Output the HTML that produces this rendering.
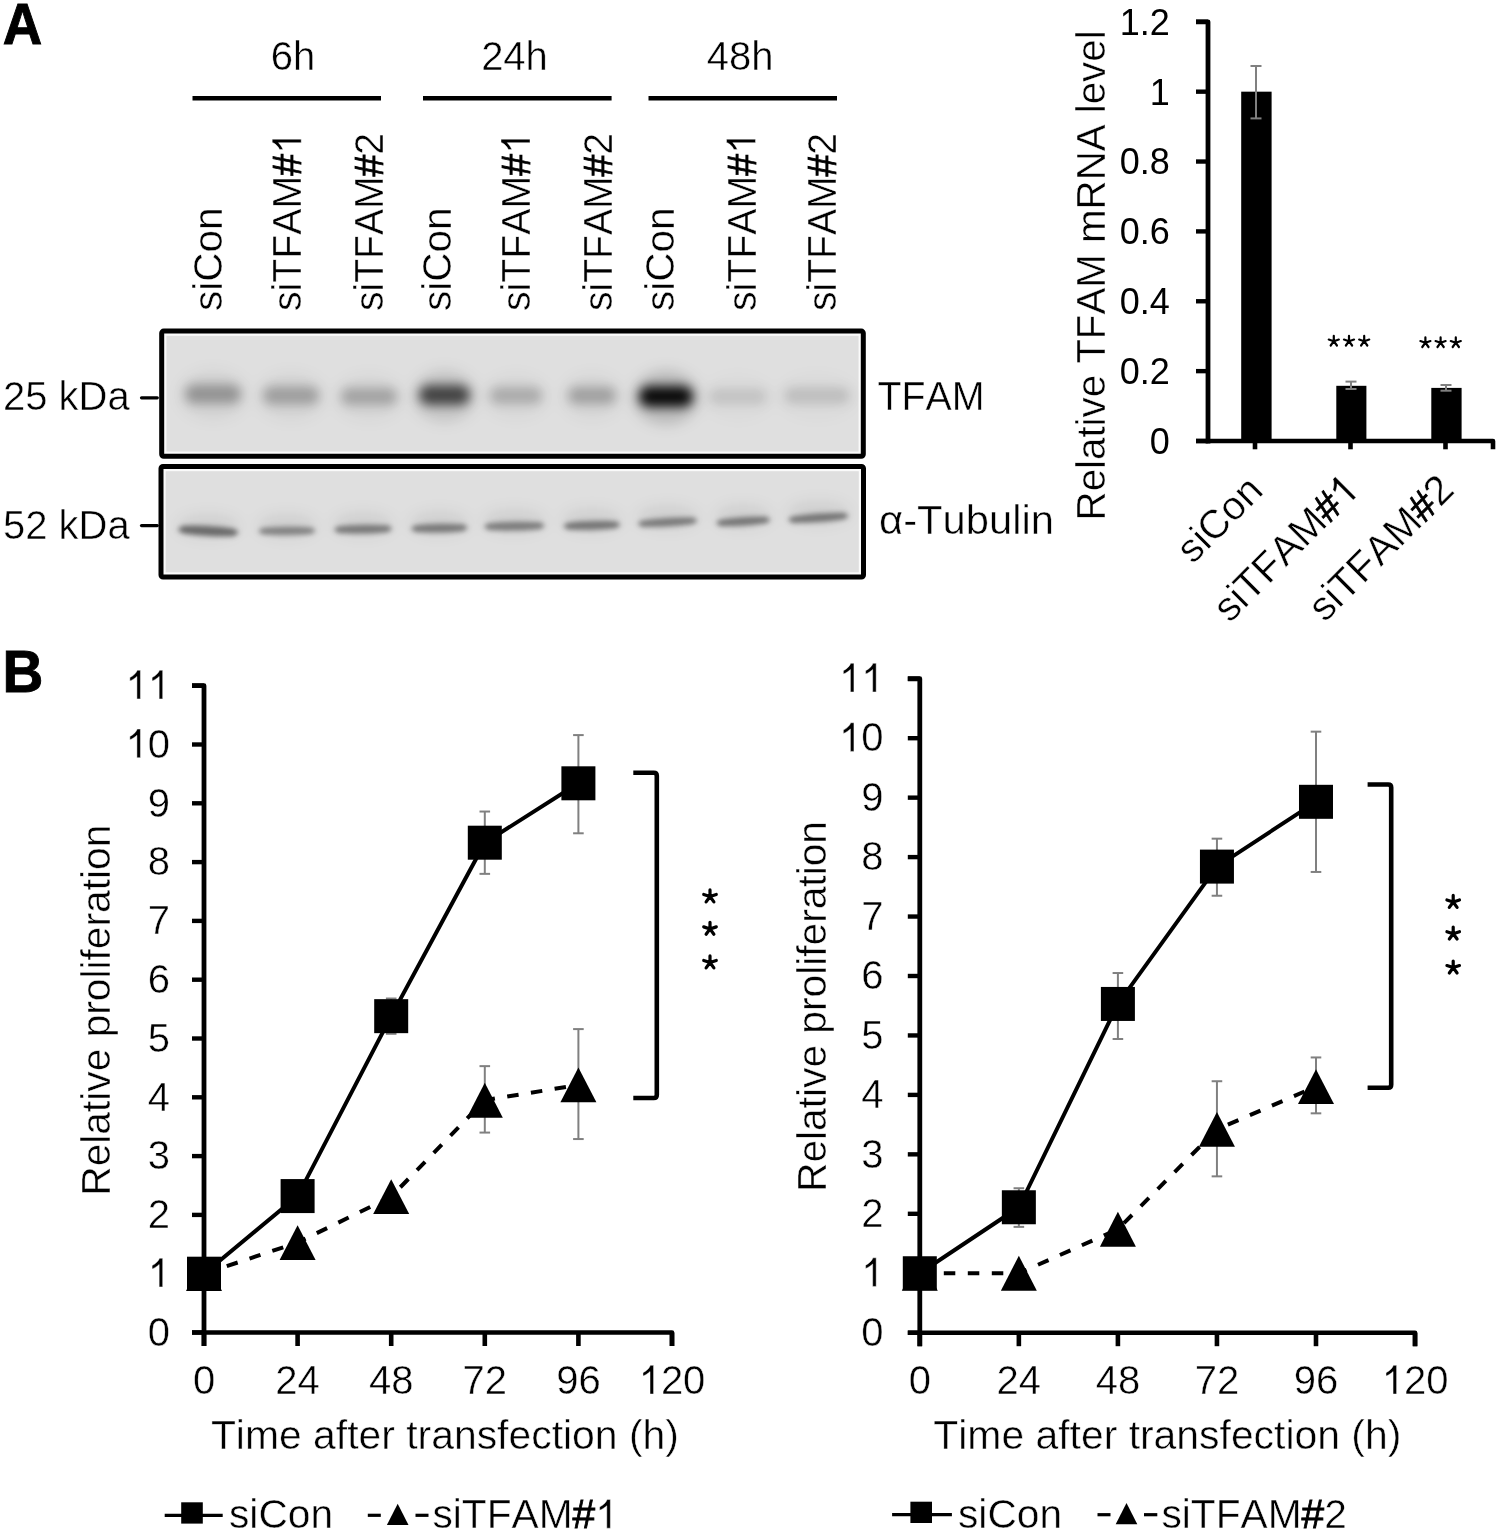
<!DOCTYPE html>
<html><head><meta charset="utf-8"><title>Figure</title>
<style>
html,body{margin:0;padding:0;background:#fff;width:1500px;height:1533px;overflow:hidden;}
svg{display:block;filter:blur(0.4px);}
text{font-family:"Liberation Sans", sans-serif;fill:#000;stroke:#fff;stroke-width:0.45px;font-kerning:none;}
</style></head><body>
<svg width="1500" height="1533" viewBox="0 0 1500 1533">
<rect width="1500" height="1533" fill="#fff"/>
<text transform="translate(2.7,44.2) scale(0.975,1.03)" font-size="56" font-weight="bold" style="stroke:#000;stroke-width:0.9px">A</text>
<text x="292.90" y="70.00" font-size="40" text-anchor="middle" font-weight="normal" >6h</text>
<line x1="192.50" y1="98.20" x2="381.00" y2="98.20" stroke="#000" stroke-width="4.6" stroke-linecap="butt" />
<text x="514.50" y="70.00" font-size="40" text-anchor="middle" font-weight="normal" >24h</text>
<line x1="423.00" y1="98.20" x2="611.60" y2="98.20" stroke="#000" stroke-width="4.6" stroke-linecap="butt" />
<text x="740.20" y="70.00" font-size="40" text-anchor="middle" font-weight="normal" >48h</text>
<line x1="648.50" y1="98.20" x2="837.00" y2="98.20" stroke="#000" stroke-width="4.6" stroke-linecap="butt" />
<text transform="translate(222.00,311.00) rotate(-90)" font-size="40.5" text-anchor="start" >siCon</text>
<text transform="translate(301.20,311.00) rotate(-90)" font-size="40.5" text-anchor="start" textLength="179" lengthAdjust="spacingAndGlyphs">siTFAM<tspan style="stroke:#000;stroke-width:0.8px">#</tspan><tspan class="one" style="fill:none;stroke:none">1</tspan></text>
<text transform="translate(383.40,311.00) rotate(-90)" font-size="40.5" text-anchor="start" textLength="178" lengthAdjust="spacingAndGlyphs">siTFAM<tspan style="stroke:#000;stroke-width:0.8px">#</tspan>2</text>
<text transform="translate(450.80,311.00) rotate(-90)" font-size="40.5" text-anchor="start" >siCon</text>
<text transform="translate(530.00,311.00) rotate(-90)" font-size="40.5" text-anchor="start" textLength="179" lengthAdjust="spacingAndGlyphs">siTFAM<tspan style="stroke:#000;stroke-width:0.8px">#</tspan><tspan class="one" style="fill:none;stroke:none">1</tspan></text>
<text transform="translate(612.20,311.00) rotate(-90)" font-size="40.5" text-anchor="start" textLength="178" lengthAdjust="spacingAndGlyphs">siTFAM<tspan style="stroke:#000;stroke-width:0.8px">#</tspan>2</text>
<text transform="translate(674.20,311.00) rotate(-90)" font-size="40.5" text-anchor="start" >siCon</text>
<text transform="translate(755.50,311.00) rotate(-90)" font-size="40.5" text-anchor="start" textLength="179" lengthAdjust="spacingAndGlyphs">siTFAM<tspan style="stroke:#000;stroke-width:0.8px">#</tspan><tspan class="one" style="fill:none;stroke:none">1</tspan></text>
<text transform="translate(836.30,311.00) rotate(-90)" font-size="40.5" text-anchor="start" textLength="178" lengthAdjust="spacingAndGlyphs">siTFAM<tspan style="stroke:#000;stroke-width:0.8px">#</tspan>2</text>
<defs><filter id="bl" filterUnits="userSpaceOnUse" x="0" y="0" width="1500" height="1533"><feGaussianBlur stdDeviation="5.5"/></filter><filter id="bl2" filterUnits="userSpaceOnUse" x="0" y="0" width="1500" height="1533"><feGaussianBlur stdDeviation="2.8"/></filter><filter id="bl3" filterUnits="userSpaceOnUse" x="0" y="0" width="1500" height="1533"><feGaussianBlur stdDeviation="7"/></filter><linearGradient id="bg1" x1="0" y1="0" x2="0" y2="1"><stop offset="0" stop-color="#dedede"/><stop offset="1" stop-color="#dcdcdc"/></linearGradient></defs>
<rect x="161.70" y="331.10" width="701.60" height="125.20" fill="#fafafa" stroke="#000" stroke-width="5.0" rx="2"/>
<rect x="166.40" y="335.80" width="692.20" height="115.80" fill="#dfdfdf"/>
<rect x="161.00" y="466.50" width="702.50" height="110.50" fill="#fafafa" stroke="#000" stroke-width="5.0" rx="2"/>
<rect x="165.70" y="471.20" width="693.10" height="101.10" fill="#dfdfdf"/>
<g filter="url(#bl)">
<line x1="194.5" y1="394.0" x2="231.5" y2="394.0" stroke="#000" stroke-width="19" stroke-linecap="round" opacity="0.3"/>
<line x1="272.0" y1="395.5" x2="310.0" y2="395.5" stroke="#000" stroke-width="18" stroke-linecap="round" opacity="0.26"/>
<line x1="349.5" y1="396.5" x2="388.5" y2="396.5" stroke="#000" stroke-width="17" stroke-linecap="round" opacity="0.24"/>
<line x1="429.0" y1="395.0" x2="460.0" y2="395.0" stroke="#000" stroke-width="20" stroke-linecap="round" opacity="0.66"/>
<line x1="498.0" y1="395.5" x2="534.0" y2="395.5" stroke="#000" stroke-width="16" stroke-linecap="round" opacity="0.21"/>
<line x1="576.5" y1="395.5" x2="607.5" y2="395.5" stroke="#000" stroke-width="17" stroke-linecap="round" opacity="0.25"/>
<line x1="649.5" y1="396.5" x2="682.5" y2="396.5" stroke="#000" stroke-width="21" stroke-linecap="round" opacity="0.94"/>
<line x1="717.0" y1="396.5" x2="759.0" y2="396.5" stroke="#000" stroke-width="16" stroke-linecap="round" opacity="0.11"/>
<line x1="792.0" y1="395.5" x2="842.0" y2="395.5" stroke="#000" stroke-width="16" stroke-linecap="round" opacity="0.13"/>
</g>
<g filter="url(#bl3)">
<ellipse cx="213.0" cy="395.0" rx="34.0" ry="25" fill="#000" opacity="0.054"/>
<ellipse cx="291.0" cy="396.5" rx="34.0" ry="24" fill="#000" opacity="0.047"/>
<ellipse cx="369.0" cy="397.5" rx="34.0" ry="23" fill="#000" opacity="0.043"/>
<ellipse cx="444.5" cy="396.0" rx="31.5" ry="26" fill="#000" opacity="0.119"/>
<ellipse cx="516.0" cy="396.5" rx="32.0" ry="22" fill="#000" opacity="0.038"/>
<ellipse cx="592.0" cy="396.5" rx="30.0" ry="23" fill="#000" opacity="0.045"/>
<ellipse cx="666.0" cy="397.5" rx="33.0" ry="27" fill="#000" opacity="0.169"/>
<ellipse cx="738.0" cy="397.5" rx="35.0" ry="22" fill="#000" opacity="0.020"/>
<ellipse cx="817.0" cy="396.5" rx="39.0" ry="22" fill="#000" opacity="0.023"/>
</g>
<g filter="url(#bl2)">
<ellipse cx="208.25" cy="531.00" rx="31.25" ry="5.50" transform="rotate(2.75 208.25 531.00)" fill="#000" opacity="0.275"/>
<line x1="184.00" y1="529.50" x2="232.50" y2="532.50" stroke="#000" stroke-width="8.50" stroke-linecap="round" opacity="0.300"/>
<ellipse cx="287.00" cy="530.95" rx="29.50" ry="4.75" transform="rotate(-0.49 287.00 530.95)" fill="#000" opacity="0.204"/>
<line x1="263.75" y1="531.20" x2="310.25" y2="530.70" stroke="#000" stroke-width="7.22" stroke-linecap="round" opacity="0.222"/>
<ellipse cx="363.00" cy="529.20" rx="30.00" ry="5.00" transform="rotate(-0.95 363.00 529.20)" fill="#000" opacity="0.231"/>
<line x1="339.50" y1="529.70" x2="386.50" y2="528.70" stroke="#000" stroke-width="7.65" stroke-linecap="round" opacity="0.252"/>
<ellipse cx="439.30" cy="528.20" rx="29.30" ry="5.00" transform="rotate(-0.98 439.30 528.20)" fill="#000" opacity="0.231"/>
<line x1="416.50" y1="528.70" x2="462.10" y2="527.70" stroke="#000" stroke-width="7.65" stroke-linecap="round" opacity="0.252"/>
<ellipse cx="514.30" cy="526.20" rx="31.30" ry="5.00" transform="rotate(-0.92 514.30 526.20)" fill="#000" opacity="0.220"/>
<line x1="489.50" y1="526.70" x2="539.10" y2="525.70" stroke="#000" stroke-width="7.65" stroke-linecap="round" opacity="0.240"/>
<ellipse cx="591.80" cy="525.45" rx="29.40" ry="5.00" transform="rotate(-1.46 591.80 525.45)" fill="#000" opacity="0.242"/>
<line x1="568.90" y1="526.20" x2="614.70" y2="524.70" stroke="#000" stroke-width="7.65" stroke-linecap="round" opacity="0.264"/>
<ellipse cx="667.60" cy="522.20" rx="30.80" ry="4.75" transform="rotate(-2.97 667.60 522.20)" fill="#000" opacity="0.226"/>
<line x1="643.05" y1="523.80" x2="692.15" y2="520.60" stroke="#000" stroke-width="7.22" stroke-linecap="round" opacity="0.246"/>
<ellipse cx="743.20" cy="521.40" rx="28.00" ry="4.75" transform="rotate(-3.27 743.20 521.40)" fill="#000" opacity="0.242"/>
<line x1="721.45" y1="523.00" x2="764.95" y2="519.80" stroke="#000" stroke-width="7.22" stroke-linecap="round" opacity="0.264"/>
<ellipse cx="818.40" cy="517.80" rx="31.20" ry="4.75" transform="rotate(-3.67 818.40 517.80)" fill="#000" opacity="0.242"/>
<line x1="793.45" y1="519.80" x2="843.35" y2="515.80" stroke="#000" stroke-width="7.22" stroke-linecap="round" opacity="0.264"/>
</g>
<g filter="url(#bl3)">
<ellipse cx="208.25" cy="526.0" rx="31.25" ry="12" fill="#000" opacity="0.07"/>
<ellipse cx="287.0" cy="525.95" rx="29.5" ry="12" fill="#000" opacity="0.07"/>
<ellipse cx="363.0" cy="524.2" rx="30.0" ry="12" fill="#000" opacity="0.07"/>
<ellipse cx="439.3" cy="523.2" rx="29.30000000000001" ry="12" fill="#000" opacity="0.07"/>
<ellipse cx="514.3" cy="521.2" rx="31.30000000000001" ry="12" fill="#000" opacity="0.07"/>
<ellipse cx="591.8" cy="520.45" rx="29.400000000000034" ry="12" fill="#000" opacity="0.07"/>
<ellipse cx="667.5999999999999" cy="517.2" rx="30.80000000000001" ry="12" fill="#000" opacity="0.07"/>
<ellipse cx="743.2" cy="516.4" rx="28.0" ry="12" fill="#000" opacity="0.07"/>
<ellipse cx="818.4000000000001" cy="512.8" rx="31.19999999999999" ry="12" fill="#000" opacity="0.07"/>
</g>
<text x="3.00" y="409.70" font-size="40" text-anchor="start" font-weight="normal" >25 kDa</text>
<text x="3.00" y="539.00" font-size="40" text-anchor="start" font-weight="normal" >52 kDa</text>
<line x1="141.50" y1="397.80" x2="157.30" y2="397.80" stroke="#000" stroke-width="3.2" stroke-linecap="round" />
<line x1="141.50" y1="525.60" x2="157.30" y2="525.60" stroke="#000" stroke-width="3.2" stroke-linecap="round" />
<text x="877.50" y="410.00" font-size="40" text-anchor="start" font-weight="normal" textLength="107.1" lengthAdjust="spacingAndGlyphs">TFAM</text>
<text x="879.00" y="534.00" font-size="40" text-anchor="start" font-weight="normal" textLength="175" lengthAdjust="spacingAndGlyphs">&#945;-Tubulin</text>
<rect x="1241.2" y="91.67" width="30.40" height="349.33" fill="#000"/>
<rect x="1336.3" y="385.81" width="30.10" height="55.19" fill="#000"/>
<rect x="1431.3" y="387.90" width="30.30" height="53.10" fill="#000"/>
<line x1="1256.00" y1="66.00" x2="1256.00" y2="118.40" stroke="#808080" stroke-width="2.0" stroke-linecap="butt" />
<line x1="1250.50" y1="66.00" x2="1261.50" y2="66.00" stroke="#808080" stroke-width="2.0" stroke-linecap="butt" />
<line x1="1250.50" y1="118.40" x2="1261.50" y2="118.40" stroke="#808080" stroke-width="2.0" stroke-linecap="butt" />
<line x1="1351.00" y1="381.60" x2="1351.00" y2="389.00" stroke="#808080" stroke-width="2.0" stroke-linecap="butt" />
<line x1="1345.50" y1="381.60" x2="1356.50" y2="381.60" stroke="#808080" stroke-width="2.0" stroke-linecap="butt" />
<line x1="1345.50" y1="389.00" x2="1356.50" y2="389.00" stroke="#808080" stroke-width="2.0" stroke-linecap="butt" />
<line x1="1446.00" y1="385.00" x2="1446.00" y2="390.70" stroke="#808080" stroke-width="2.0" stroke-linecap="butt" />
<line x1="1440.50" y1="385.00" x2="1451.50" y2="385.00" stroke="#808080" stroke-width="2.0" stroke-linecap="butt" />
<line x1="1440.50" y1="390.70" x2="1451.50" y2="390.70" stroke="#808080" stroke-width="2.0" stroke-linecap="butt" />
<path d="M1196,21.80 H1208.0 V443.4" fill="none" stroke="#000" stroke-width="4.8" stroke-linejoin="round"/>
<path d="M1196,441.0 H1493 V449.3" fill="none" stroke="#000" stroke-width="4.6" stroke-linejoin="round"/>
<line x1="1196.00" y1="441.00" x2="1208.00" y2="441.00" stroke="#000" stroke-width="4.4" stroke-linecap="butt" />
<text x="1169.80" y="453.90" font-size="36" text-anchor="end" font-weight="normal" style="stroke:none">0</text>
<line x1="1196.00" y1="371.13" x2="1208.00" y2="371.13" stroke="#000" stroke-width="4.4" stroke-linecap="butt" />
<text x="1169.80" y="384.03" font-size="36" text-anchor="end" font-weight="normal" style="stroke:none">0.2</text>
<line x1="1196.00" y1="301.27" x2="1208.00" y2="301.27" stroke="#000" stroke-width="4.4" stroke-linecap="butt" />
<text x="1169.80" y="314.17" font-size="36" text-anchor="end" font-weight="normal" style="stroke:none">0.4</text>
<line x1="1196.00" y1="231.40" x2="1208.00" y2="231.40" stroke="#000" stroke-width="4.4" stroke-linecap="butt" />
<text x="1169.80" y="244.30" font-size="36" text-anchor="end" font-weight="normal" style="stroke:none">0.6</text>
<line x1="1196.00" y1="161.53" x2="1208.00" y2="161.53" stroke="#000" stroke-width="4.4" stroke-linecap="butt" />
<text x="1169.80" y="174.43" font-size="36" text-anchor="end" font-weight="normal" style="stroke:none">0.8</text>
<line x1="1196.00" y1="91.67" x2="1208.00" y2="91.67" stroke="#000" stroke-width="4.4" stroke-linecap="butt" />
<text x="1169.80" y="104.57" font-size="36" text-anchor="end" font-weight="normal" style="stroke:none">1</text>
<line x1="1196.00" y1="21.80" x2="1208.00" y2="21.80" stroke="#000" stroke-width="4.4" stroke-linecap="butt" />
<text x="1169.80" y="34.70" font-size="36" text-anchor="end" font-weight="normal" style="stroke:none">1.2</text>
<line x1="1255.00" y1="441.00" x2="1255.00" y2="449.30" stroke="#000" stroke-width="4.6" stroke-linecap="butt" />
<line x1="1350.50" y1="441.00" x2="1350.50" y2="449.30" stroke="#000" stroke-width="4.6" stroke-linecap="butt" />
<line x1="1445.50" y1="441.00" x2="1445.50" y2="449.30" stroke="#000" stroke-width="4.6" stroke-linecap="butt" />
<path d="M1333.80,341.20L1333.80,335.90M1333.80,341.20L1338.84,339.56M1333.80,341.20L1336.92,345.49M1333.80,341.20L1330.68,345.49M1333.80,341.20L1328.76,339.56" stroke="#000" stroke-width="2.2" stroke-linecap="round" fill="none"/>
<path d="M1349.00,341.20L1349.00,335.90M1349.00,341.20L1354.04,339.56M1349.00,341.20L1352.12,345.49M1349.00,341.20L1345.88,345.49M1349.00,341.20L1343.96,339.56" stroke="#000" stroke-width="2.2" stroke-linecap="round" fill="none"/>
<path d="M1364.20,341.20L1364.20,335.90M1364.20,341.20L1369.24,339.56M1364.20,341.20L1367.32,345.49M1364.20,341.20L1361.08,345.49M1364.20,341.20L1359.16,339.56" stroke="#000" stroke-width="2.2" stroke-linecap="round" fill="none"/>
<path d="M1425.40,342.70L1425.40,337.40M1425.40,342.70L1430.44,341.06M1425.40,342.70L1428.52,346.99M1425.40,342.70L1422.28,346.99M1425.40,342.70L1420.36,341.06" stroke="#000" stroke-width="2.2" stroke-linecap="round" fill="none"/>
<path d="M1440.60,342.70L1440.60,337.40M1440.60,342.70L1445.64,341.06M1440.60,342.70L1443.72,346.99M1440.60,342.70L1437.48,346.99M1440.60,342.70L1435.56,341.06" stroke="#000" stroke-width="2.2" stroke-linecap="round" fill="none"/>
<path d="M1455.80,342.70L1455.80,337.40M1455.80,342.70L1460.84,341.06M1455.80,342.70L1458.92,346.99M1455.80,342.70L1452.68,346.99M1455.80,342.70L1450.76,341.06" stroke="#000" stroke-width="2.2" stroke-linecap="round" fill="none"/>
<text transform="translate(1105.20,520.40) rotate(-90)" font-size="40" text-anchor="start" textLength="490" lengthAdjust="spacingAndGlyphs">Relative TFAM mRNA level</text>
<text transform="translate(1244.7,472.2) rotate(-45)" font-size="40" text-anchor="end" dy="0.72em" dx="0">siCon</text>
<text transform="translate(1340.4,471.4) rotate(-45)" font-size="40.8" text-anchor="end" dy="0.72em" dx="0">siTFAM<tspan style="stroke:#000;stroke-width:0.8px">#</tspan><tspan class="one" style="fill:none;stroke:none">1</tspan></text>
<text transform="translate(1435.3,471.0) rotate(-45)" font-size="40.8" text-anchor="end" dy="0.72em" dx="0">siTFAM<tspan style="stroke:#000;stroke-width:0.8px">#</tspan>2</text>
<text transform="translate(2.4,691.6) scale(1.01,1.068)" font-size="56" font-weight="bold" style="stroke:#000;stroke-width:0.9px">B</text>
<line x1="391.20" y1="998.52" x2="391.20" y2="1033.80" stroke="#808080" stroke-width="2.0" stroke-linecap="butt" />
<line x1="385.90" y1="998.52" x2="396.50" y2="998.52" stroke="#808080" stroke-width="2.0" stroke-linecap="butt" />
<line x1="385.90" y1="1033.80" x2="396.50" y2="1033.80" stroke="#808080" stroke-width="2.0" stroke-linecap="butt" />
<line x1="484.80" y1="811.53" x2="484.80" y2="873.86" stroke="#808080" stroke-width="2.0" stroke-linecap="butt" />
<line x1="479.50" y1="811.53" x2="490.10" y2="811.53" stroke="#808080" stroke-width="2.0" stroke-linecap="butt" />
<line x1="479.50" y1="873.86" x2="490.10" y2="873.86" stroke="#808080" stroke-width="2.0" stroke-linecap="butt" />
<line x1="578.40" y1="735.09" x2="578.40" y2="833.29" stroke="#808080" stroke-width="2.0" stroke-linecap="butt" />
<line x1="573.10" y1="735.09" x2="583.70" y2="735.09" stroke="#808080" stroke-width="2.0" stroke-linecap="butt" />
<line x1="573.10" y1="833.29" x2="583.70" y2="833.29" stroke="#808080" stroke-width="2.0" stroke-linecap="butt" />
<line x1="484.80" y1="1066.14" x2="484.80" y2="1132.58" stroke="#808080" stroke-width="2.0" stroke-linecap="butt" />
<line x1="479.50" y1="1066.14" x2="490.10" y2="1066.14" stroke="#808080" stroke-width="2.0" stroke-linecap="butt" />
<line x1="479.50" y1="1132.58" x2="490.10" y2="1132.58" stroke="#808080" stroke-width="2.0" stroke-linecap="butt" />
<line x1="578.40" y1="1029.09" x2="578.40" y2="1139.05" stroke="#808080" stroke-width="2.0" stroke-linecap="butt" />
<line x1="573.10" y1="1029.09" x2="583.70" y2="1029.09" stroke="#808080" stroke-width="2.0" stroke-linecap="butt" />
<line x1="573.10" y1="1139.05" x2="583.70" y2="1139.05" stroke="#808080" stroke-width="2.0" stroke-linecap="butt" />
<path d="M192.00,685.70 H204.00 V1346.00" fill="none" stroke="#000" stroke-width="4.8" stroke-linejoin="round"/>
<line x1="192.00" y1="1332.50" x2="204.00" y2="1332.50" stroke="#000" stroke-width="4.4" stroke-linecap="butt" />
<text x="170.00" y="1345.70" font-size="40" text-anchor="end" font-weight="normal" >0</text>
<line x1="192.00" y1="1273.70" x2="204.00" y2="1273.70" stroke="#000" stroke-width="4.4" stroke-linecap="butt" />
<text x="170.00" y="1286.90" font-size="40" text-anchor="end" font-weight="normal" ><tspan class="one" style="fill:none;stroke:none">1</tspan></text>
<line x1="192.00" y1="1214.90" x2="204.00" y2="1214.90" stroke="#000" stroke-width="4.4" stroke-linecap="butt" />
<text x="170.00" y="1228.10" font-size="40" text-anchor="end" font-weight="normal" >2</text>
<line x1="192.00" y1="1156.10" x2="204.00" y2="1156.10" stroke="#000" stroke-width="4.4" stroke-linecap="butt" />
<text x="170.00" y="1169.30" font-size="40" text-anchor="end" font-weight="normal" >3</text>
<line x1="192.00" y1="1097.30" x2="204.00" y2="1097.30" stroke="#000" stroke-width="4.4" stroke-linecap="butt" />
<text x="170.00" y="1110.50" font-size="40" text-anchor="end" font-weight="normal" >4</text>
<line x1="192.00" y1="1038.50" x2="204.00" y2="1038.50" stroke="#000" stroke-width="4.4" stroke-linecap="butt" />
<text x="170.00" y="1051.70" font-size="40" text-anchor="end" font-weight="normal" >5</text>
<line x1="192.00" y1="979.70" x2="204.00" y2="979.70" stroke="#000" stroke-width="4.4" stroke-linecap="butt" />
<text x="170.00" y="992.90" font-size="40" text-anchor="end" font-weight="normal" >6</text>
<line x1="192.00" y1="920.90" x2="204.00" y2="920.90" stroke="#000" stroke-width="4.4" stroke-linecap="butt" />
<text x="170.00" y="934.10" font-size="40" text-anchor="end" font-weight="normal" >7</text>
<line x1="192.00" y1="862.10" x2="204.00" y2="862.10" stroke="#000" stroke-width="4.4" stroke-linecap="butt" />
<text x="170.00" y="875.30" font-size="40" text-anchor="end" font-weight="normal" >8</text>
<line x1="192.00" y1="803.30" x2="204.00" y2="803.30" stroke="#000" stroke-width="4.4" stroke-linecap="butt" />
<text x="170.00" y="816.50" font-size="40" text-anchor="end" font-weight="normal" >9</text>
<line x1="192.00" y1="744.50" x2="204.00" y2="744.50" stroke="#000" stroke-width="4.4" stroke-linecap="butt" />
<text x="170.00" y="757.70" font-size="40" text-anchor="end" font-weight="normal" ><tspan class="one" style="fill:none;stroke:none">1</tspan>0</text>
<line x1="192.00" y1="685.70" x2="204.00" y2="685.70" stroke="#000" stroke-width="4.4" stroke-linecap="butt" />
<text x="170.00" y="698.90" font-size="40" text-anchor="end" font-weight="normal" ><tspan class="one" style="fill:none;stroke:none">1</tspan><tspan class="one" style="fill:none;stroke:none">1</tspan></text>
<path d="M192.00,1332.50 H672.00 V1346.00" fill="none" stroke="#000" stroke-width="4.6" stroke-linejoin="round"/>
<line x1="204.00" y1="1332.50" x2="204.00" y2="1346.00" stroke="#000" stroke-width="4.6" stroke-linecap="butt" />
<text x="204.00" y="1394.00" font-size="40" text-anchor="middle" font-weight="normal" >0</text>
<line x1="297.60" y1="1332.50" x2="297.60" y2="1346.00" stroke="#000" stroke-width="4.6" stroke-linecap="butt" />
<text x="297.60" y="1394.00" font-size="40" text-anchor="middle" font-weight="normal" >24</text>
<line x1="391.20" y1="1332.50" x2="391.20" y2="1346.00" stroke="#000" stroke-width="4.6" stroke-linecap="butt" />
<text x="391.20" y="1394.00" font-size="40" text-anchor="middle" font-weight="normal" >48</text>
<line x1="484.80" y1="1332.50" x2="484.80" y2="1346.00" stroke="#000" stroke-width="4.6" stroke-linecap="butt" />
<text x="484.80" y="1394.00" font-size="40" text-anchor="middle" font-weight="normal" >72</text>
<line x1="578.40" y1="1332.50" x2="578.40" y2="1346.00" stroke="#000" stroke-width="4.6" stroke-linecap="butt" />
<text x="578.40" y="1394.00" font-size="40" text-anchor="middle" font-weight="normal" >96</text>
<line x1="672.00" y1="1332.50" x2="672.00" y2="1346.00" stroke="#000" stroke-width="4.6" stroke-linecap="butt" />
<text x="672.00" y="1394.00" font-size="40" text-anchor="middle" font-weight="normal" ><tspan class="one" style="fill:none;stroke:none">1</tspan>20</text>
<polyline points="204.00,1273.70 297.60,1242.54 391.20,1196.67 484.80,1100.24 578.40,1084.95" fill="none" stroke="#000" stroke-width="4" stroke-dasharray="11.5,12.5"/>
<polyline points="204.00,1273.70 297.60,1196.08 391.20,1016.16 484.80,842.70 578.40,783.31" fill="none" stroke="#000" stroke-width="4"/>
<path d="M204.00,1256.30L222.00,1291.10L186.00,1291.10Z" fill="#000"/>
<path d="M297.60,1225.14L315.60,1259.94L279.60,1259.94Z" fill="#000"/>
<path d="M391.20,1179.27L409.20,1214.07L373.20,1214.07Z" fill="#000"/>
<path d="M484.80,1082.84L502.80,1117.64L466.80,1117.64Z" fill="#000"/>
<path d="M578.40,1067.55L596.40,1102.35L560.40,1102.35Z" fill="#000"/>
<rect x="187.00" y="1256.70" width="34" height="34" fill="#000"/>
<rect x="280.60" y="1179.08" width="34" height="34" fill="#000"/>
<rect x="374.20" y="999.16" width="34" height="34" fill="#000"/>
<rect x="467.80" y="825.70" width="34" height="34" fill="#000"/>
<rect x="561.40" y="766.31" width="34" height="34" fill="#000"/>
<text x="210.90" y="1448.60" font-size="40" text-anchor="start" font-weight="normal" textLength="468.0" lengthAdjust="spacingAndGlyphs">Time after transfection (h)</text>
<text transform="translate(110.30,1195.70) rotate(-90)" font-size="40" text-anchor="start" textLength="371.0" lengthAdjust="spacingAndGlyphs">Relative proliferation</text>
<path d="M633.3,772.8 H653.8 Q656.8,772.8 656.8,775.8 V1095.0 Q656.8,1098.0 653.8,1098.0 H633.3" fill="none" stroke="#000" stroke-width="4.6"/>
<path d="M710.00,896.50L710.00,889.90M710.00,896.50L716.28,894.46M710.00,896.50L713.88,901.84M710.00,896.50L706.12,901.84M710.00,896.50L703.72,894.46" stroke="#000" stroke-width="3.2" stroke-linecap="round" fill="none"/>
<path d="M710.00,928.90L710.00,922.30M710.00,928.90L716.28,926.86M710.00,928.90L713.88,934.24M710.00,928.90L706.12,934.24M710.00,928.90L703.72,926.86" stroke="#000" stroke-width="3.2" stroke-linecap="round" fill="none"/>
<path d="M710.00,962.50L710.00,955.90M710.00,962.50L716.28,960.46M710.00,962.50L713.88,967.84M710.00,962.50L706.12,967.84M710.00,962.50L703.72,960.46" stroke="#000" stroke-width="3.2" stroke-linecap="round" fill="none"/>
<line x1="164.70" y1="1515.30" x2="222.70" y2="1515.30" stroke="#000" stroke-width="3.2" stroke-linecap="butt" />
<rect x="181.20" y="1502.30" width="21.6" height="21.3" fill="#000"/>
<text x="229.00" y="1528.20" font-size="40" text-anchor="start" font-weight="normal" textLength="104" lengthAdjust="spacingAndGlyphs">siCon</text>
<line x1="367.80" y1="1515.30" x2="380.80" y2="1515.30" stroke="#000" stroke-width="3.2" stroke-linecap="butt" />
<path d="M397.70,1503.70L408.50,1524.90L386.90,1524.90Z" fill="#000"/>
<line x1="415.50" y1="1515.30" x2="428.50" y2="1515.30" stroke="#000" stroke-width="3.2" stroke-linecap="butt" />
<text x="432.50" y="1528.20" font-size="40" text-anchor="start" font-weight="normal" textLength="185.3" lengthAdjust="spacingAndGlyphs">siTFAM<tspan style="stroke:#000;stroke-width:0.8px">#</tspan><tspan class="one" style="fill:none;stroke:none">1</tspan></text>
<line x1="1018.85" y1="1188.24" x2="1018.85" y2="1226.88" stroke="#808080" stroke-width="2.0" stroke-linecap="butt" />
<line x1="1013.55" y1="1188.24" x2="1024.15" y2="1188.24" stroke="#808080" stroke-width="2.0" stroke-linecap="butt" />
<line x1="1013.55" y1="1226.88" x2="1024.15" y2="1226.88" stroke="#808080" stroke-width="2.0" stroke-linecap="butt" />
<line x1="1117.90" y1="973.03" x2="1117.90" y2="1039.02" stroke="#808080" stroke-width="2.0" stroke-linecap="butt" />
<line x1="1112.60" y1="973.03" x2="1123.20" y2="973.03" stroke="#808080" stroke-width="2.0" stroke-linecap="butt" />
<line x1="1112.60" y1="1039.02" x2="1123.20" y2="1039.02" stroke="#808080" stroke-width="2.0" stroke-linecap="butt" />
<line x1="1216.94" y1="838.67" x2="1216.94" y2="895.74" stroke="#808080" stroke-width="2.0" stroke-linecap="butt" />
<line x1="1211.64" y1="838.67" x2="1222.24" y2="838.67" stroke="#808080" stroke-width="2.0" stroke-linecap="butt" />
<line x1="1211.64" y1="895.74" x2="1222.24" y2="895.74" stroke="#808080" stroke-width="2.0" stroke-linecap="butt" />
<line x1="1315.99" y1="731.66" x2="1315.99" y2="871.96" stroke="#808080" stroke-width="2.0" stroke-linecap="butt" />
<line x1="1310.69" y1="731.66" x2="1321.29" y2="731.66" stroke="#808080" stroke-width="2.0" stroke-linecap="butt" />
<line x1="1310.69" y1="871.96" x2="1321.29" y2="871.96" stroke="#808080" stroke-width="2.0" stroke-linecap="butt" />
<line x1="1216.94" y1="1081.23" x2="1216.94" y2="1176.35" stroke="#808080" stroke-width="2.0" stroke-linecap="butt" />
<line x1="1211.64" y1="1081.23" x2="1222.24" y2="1081.23" stroke="#808080" stroke-width="2.0" stroke-linecap="butt" />
<line x1="1211.64" y1="1176.35" x2="1222.24" y2="1176.35" stroke="#808080" stroke-width="2.0" stroke-linecap="butt" />
<line x1="1315.99" y1="1057.45" x2="1315.99" y2="1113.33" stroke="#808080" stroke-width="2.0" stroke-linecap="butt" />
<line x1="1310.69" y1="1057.45" x2="1321.29" y2="1057.45" stroke="#808080" stroke-width="2.0" stroke-linecap="butt" />
<line x1="1310.69" y1="1113.33" x2="1321.29" y2="1113.33" stroke="#808080" stroke-width="2.0" stroke-linecap="butt" />
<path d="M907.80,678.75 H919.80 V1346.20" fill="none" stroke="#000" stroke-width="4.8" stroke-linejoin="round"/>
<line x1="907.80" y1="1332.70" x2="919.80" y2="1332.70" stroke="#000" stroke-width="4.4" stroke-linecap="butt" />
<text x="883.50" y="1345.90" font-size="40" text-anchor="end" font-weight="normal" >0</text>
<line x1="907.80" y1="1273.25" x2="919.80" y2="1273.25" stroke="#000" stroke-width="4.4" stroke-linecap="butt" />
<text x="883.50" y="1286.45" font-size="40" text-anchor="end" font-weight="normal" ><tspan class="one" style="fill:none;stroke:none">1</tspan></text>
<line x1="907.80" y1="1213.80" x2="919.80" y2="1213.80" stroke="#000" stroke-width="4.4" stroke-linecap="butt" />
<text x="883.50" y="1227.00" font-size="40" text-anchor="end" font-weight="normal" >2</text>
<line x1="907.80" y1="1154.35" x2="919.80" y2="1154.35" stroke="#000" stroke-width="4.4" stroke-linecap="butt" />
<text x="883.50" y="1167.55" font-size="40" text-anchor="end" font-weight="normal" >3</text>
<line x1="907.80" y1="1094.90" x2="919.80" y2="1094.90" stroke="#000" stroke-width="4.4" stroke-linecap="butt" />
<text x="883.50" y="1108.10" font-size="40" text-anchor="end" font-weight="normal" >4</text>
<line x1="907.80" y1="1035.45" x2="919.80" y2="1035.45" stroke="#000" stroke-width="4.4" stroke-linecap="butt" />
<text x="883.50" y="1048.65" font-size="40" text-anchor="end" font-weight="normal" >5</text>
<line x1="907.80" y1="976.00" x2="919.80" y2="976.00" stroke="#000" stroke-width="4.4" stroke-linecap="butt" />
<text x="883.50" y="989.20" font-size="40" text-anchor="end" font-weight="normal" >6</text>
<line x1="907.80" y1="916.55" x2="919.80" y2="916.55" stroke="#000" stroke-width="4.4" stroke-linecap="butt" />
<text x="883.50" y="929.75" font-size="40" text-anchor="end" font-weight="normal" >7</text>
<line x1="907.80" y1="857.10" x2="919.80" y2="857.10" stroke="#000" stroke-width="4.4" stroke-linecap="butt" />
<text x="883.50" y="870.30" font-size="40" text-anchor="end" font-weight="normal" >8</text>
<line x1="907.80" y1="797.65" x2="919.80" y2="797.65" stroke="#000" stroke-width="4.4" stroke-linecap="butt" />
<text x="883.50" y="810.85" font-size="40" text-anchor="end" font-weight="normal" >9</text>
<line x1="907.80" y1="738.20" x2="919.80" y2="738.20" stroke="#000" stroke-width="4.4" stroke-linecap="butt" />
<text x="883.50" y="751.40" font-size="40" text-anchor="end" font-weight="normal" ><tspan class="one" style="fill:none;stroke:none">1</tspan>0</text>
<line x1="907.80" y1="678.75" x2="919.80" y2="678.75" stroke="#000" stroke-width="4.4" stroke-linecap="butt" />
<text x="883.50" y="691.95" font-size="40" text-anchor="end" font-weight="normal" ><tspan class="one" style="fill:none;stroke:none">1</tspan><tspan class="one" style="fill:none;stroke:none">1</tspan></text>
<path d="M907.80,1332.70 H1415.04 V1346.20" fill="none" stroke="#000" stroke-width="4.6" stroke-linejoin="round"/>
<line x1="919.80" y1="1332.70" x2="919.80" y2="1346.20" stroke="#000" stroke-width="4.6" stroke-linecap="butt" />
<text x="919.80" y="1394.00" font-size="40" text-anchor="middle" font-weight="normal" >0</text>
<line x1="1018.85" y1="1332.70" x2="1018.85" y2="1346.20" stroke="#000" stroke-width="4.6" stroke-linecap="butt" />
<text x="1018.85" y="1394.00" font-size="40" text-anchor="middle" font-weight="normal" >24</text>
<line x1="1117.90" y1="1332.70" x2="1117.90" y2="1346.20" stroke="#000" stroke-width="4.6" stroke-linecap="butt" />
<text x="1117.90" y="1394.00" font-size="40" text-anchor="middle" font-weight="normal" >48</text>
<line x1="1216.94" y1="1332.70" x2="1216.94" y2="1346.20" stroke="#000" stroke-width="4.6" stroke-linecap="butt" />
<text x="1216.94" y="1394.00" font-size="40" text-anchor="middle" font-weight="normal" >72</text>
<line x1="1315.99" y1="1332.70" x2="1315.99" y2="1346.20" stroke="#000" stroke-width="4.6" stroke-linecap="butt" />
<text x="1315.99" y="1394.00" font-size="40" text-anchor="middle" font-weight="normal" >96</text>
<line x1="1415.04" y1="1332.70" x2="1415.04" y2="1346.20" stroke="#000" stroke-width="4.6" stroke-linecap="butt" />
<text x="1415.04" y="1394.00" font-size="40" text-anchor="middle" font-weight="normal" ><tspan class="one" style="fill:none;stroke:none">1</tspan>20</text>
<polyline points="919.80,1273.25 1018.85,1273.25 1117.90,1229.26 1216.94,1129.38 1315.99,1086.58" fill="none" stroke="#000" stroke-width="4" stroke-dasharray="11.5,12.5"/>
<polyline points="919.80,1273.25 1018.85,1207.26 1117.90,1003.94 1216.94,866.61 1315.99,801.81" fill="none" stroke="#000" stroke-width="4"/>
<path d="M919.80,1255.85L937.80,1290.65L901.80,1290.65Z" fill="#000"/>
<path d="M1018.85,1255.85L1036.85,1290.65L1000.85,1290.65Z" fill="#000"/>
<path d="M1117.90,1211.86L1135.90,1246.66L1099.90,1246.66Z" fill="#000"/>
<path d="M1216.94,1111.98L1234.94,1146.78L1198.94,1146.78Z" fill="#000"/>
<path d="M1315.99,1069.18L1333.99,1103.98L1297.99,1103.98Z" fill="#000"/>
<rect x="902.80" y="1256.25" width="34" height="34" fill="#000"/>
<rect x="1001.85" y="1190.26" width="34" height="34" fill="#000"/>
<rect x="1100.90" y="986.94" width="34" height="34" fill="#000"/>
<rect x="1199.94" y="849.61" width="34" height="34" fill="#000"/>
<rect x="1298.99" y="784.81" width="34" height="34" fill="#000"/>
<text x="933.30" y="1448.60" font-size="40" text-anchor="start" font-weight="normal" textLength="468.0" lengthAdjust="spacingAndGlyphs">Time after transfection (h)</text>
<text transform="translate(825.70,1192.00) rotate(-90)" font-size="40" text-anchor="start" textLength="371.0" lengthAdjust="spacingAndGlyphs">Relative proliferation</text>
<path d="M1367.6,784.5 H1388.2 Q1391.2,784.5 1391.2,787.5 V1084.8 Q1391.2,1087.8 1388.2,1087.8 H1367.6" fill="none" stroke="#000" stroke-width="4.6"/>
<path d="M1453.20,902.00L1453.20,895.40M1453.20,902.00L1459.48,899.96M1453.20,902.00L1457.08,907.34M1453.20,902.00L1449.32,907.34M1453.20,902.00L1446.92,899.96" stroke="#000" stroke-width="3.2" stroke-linecap="round" fill="none"/>
<path d="M1453.20,933.70L1453.20,927.10M1453.20,933.70L1459.48,931.66M1453.20,933.70L1457.08,939.04M1453.20,933.70L1449.32,939.04M1453.20,933.70L1446.92,931.66" stroke="#000" stroke-width="3.2" stroke-linecap="round" fill="none"/>
<path d="M1453.20,967.60L1453.20,961.00M1453.20,967.60L1459.48,965.56M1453.20,967.60L1457.08,972.94M1453.20,967.60L1449.32,972.94M1453.20,967.60L1446.92,965.56" stroke="#000" stroke-width="3.2" stroke-linecap="round" fill="none"/>
<line x1="892.10" y1="1514.70" x2="951.90" y2="1514.70" stroke="#000" stroke-width="3.2" stroke-linecap="butt" />
<rect x="910.40" y="1501.70" width="21.6" height="21.3" fill="#000"/>
<text x="958.00" y="1528.20" font-size="40" text-anchor="start" font-weight="normal" textLength="104" lengthAdjust="spacingAndGlyphs">siCon</text>
<line x1="1097.50" y1="1514.70" x2="1110.50" y2="1514.70" stroke="#000" stroke-width="3.2" stroke-linecap="butt" />
<path d="M1126.50,1503.10L1137.30,1524.30L1115.70,1524.30Z" fill="#000"/>
<line x1="1144.00" y1="1514.70" x2="1157.30" y2="1514.70" stroke="#000" stroke-width="3.2" stroke-linecap="butt" />
<text x="1161.50" y="1528.20" font-size="40" text-anchor="start" font-weight="normal" textLength="185.3" lengthAdjust="spacingAndGlyphs">siTFAM<tspan style="stroke:#000;stroke-width:0.8px">#</tspan>2</text>
<path transform="translate(301.20,311.00) rotate(-90)" d="M171.81,0.00L168.35,0.00L168.35,-22.68Q167.09,-21.46 165.32,-20.25Q163.43,-18.95 161.43,-18.14L161.43,-21.59Q164.34,-22.96 166.66,-25.60Q168.07,-27.22 168.62,-29.00L171.81,-29.00Z" fill="#000" stroke="#fff" stroke-width="0.45"/>
<path transform="translate(530.00,311.00) rotate(-90)" d="M171.81,0.00L168.35,0.00L168.35,-22.68Q167.09,-21.46 165.32,-20.25Q163.43,-18.95 161.43,-18.14L161.43,-21.59Q164.34,-22.96 166.66,-25.60Q168.07,-27.22 168.62,-29.00L171.81,-29.00Z" fill="#000" stroke="#fff" stroke-width="0.45"/>
<path transform="translate(755.50,311.00) rotate(-90)" d="M171.81,0.00L168.35,0.00L168.35,-22.68Q167.09,-21.46 165.32,-20.25Q163.43,-18.95 161.43,-18.14L161.43,-21.59Q164.34,-22.96 166.66,-25.60Q168.07,-27.22 168.62,-29.00L171.81,-29.00Z" fill="#000" stroke="#fff" stroke-width="0.45"/>
<path transform="translate(1340.4,471.4) rotate(-45)" d="M-7.47,29.38L-11.07,29.38L-11.07,6.53Q-12.37,7.75 -14.21,8.98Q-16.17,10.28 -18.25,11.10L-18.25,7.63Q-15.23,6.24 -12.82,3.59Q-11.35,1.96 -10.78,0.16L-7.47,0.16Z" fill="#000" stroke="#fff" stroke-width="0.45"/>
<path d="M162.68,1286.90L159.16,1286.90L159.16,1264.50Q157.87,1265.70 156.07,1266.90Q154.15,1268.18 152.11,1268.98L152.11,1265.58Q155.07,1264.22 157.43,1261.62Q158.88,1260.02 159.44,1258.26L162.68,1258.26Z" fill="#000" stroke="#fff" stroke-width="0.45"/>
<path d="M140.43,757.70L136.91,757.70L136.91,735.30Q135.62,736.50 133.82,737.70Q131.90,738.98 129.86,739.78L129.86,736.38Q132.82,735.02 135.18,732.42Q136.62,730.82 137.19,729.06L140.43,729.06Z" fill="#000" stroke="#fff" stroke-width="0.45"/>
<path d="M140.43,698.90L136.91,698.90L136.91,676.50Q135.62,677.70 133.82,678.90Q131.90,680.18 129.86,680.98L129.86,677.58Q132.82,676.22 135.18,673.62Q136.62,672.02 137.19,670.26L140.43,670.26Z" fill="#000" stroke="#fff" stroke-width="0.45"/>
<path d="M162.68,698.90L159.16,698.90L159.16,676.50Q157.87,677.70 156.07,678.90Q154.15,680.18 152.11,680.98L152.11,677.58Q155.07,676.22 157.43,673.62Q158.88,672.02 159.44,670.26L162.68,670.26Z" fill="#000" stroke="#fff" stroke-width="0.45"/>
<path d="M653.55,1394.00L650.03,1394.00L650.03,1371.60Q648.75,1372.80 646.95,1374.00Q645.03,1375.28 642.99,1376.08L642.99,1372.68Q645.95,1371.32 648.31,1368.72Q649.75,1367.12 650.31,1365.36L653.55,1365.36Z" fill="#000" stroke="#fff" stroke-width="0.45"/>
<path d="M610.35,1528.20L606.77,1528.20L606.77,1505.80Q605.47,1507.00 603.64,1508.20Q601.69,1509.48 599.61,1510.28L599.61,1506.88Q602.62,1505.52 605.03,1502.92Q606.49,1501.32 607.06,1499.56L610.35,1499.56Z" fill="#000" stroke="#fff" stroke-width="0.45"/>
<path d="M876.18,1286.45L872.66,1286.45L872.66,1264.05Q871.37,1265.25 869.57,1266.45Q867.65,1267.73 865.61,1268.53L865.61,1265.13Q868.57,1263.77 870.93,1261.17Q872.38,1259.57 872.94,1257.81L876.18,1257.81Z" fill="#000" stroke="#fff" stroke-width="0.45"/>
<path d="M853.93,751.40L850.41,751.40L850.41,729.00Q849.12,730.20 847.32,731.40Q845.40,732.68 843.36,733.48L843.36,730.08Q846.32,728.72 848.68,726.12Q850.12,724.52 850.69,722.76L853.93,722.76Z" fill="#000" stroke="#fff" stroke-width="0.45"/>
<path d="M853.93,691.95L850.41,691.95L850.41,669.55Q849.12,670.75 847.32,671.95Q845.40,673.23 843.36,674.03L843.36,670.63Q846.32,669.27 848.68,666.67Q850.12,665.07 850.69,663.31L853.93,663.31Z" fill="#000" stroke="#fff" stroke-width="0.45"/>
<path d="M876.18,691.95L872.66,691.95L872.66,669.55Q871.37,670.75 869.57,671.95Q867.65,673.23 865.61,674.03L865.61,670.63Q868.57,669.27 870.93,666.67Q872.38,665.07 872.94,663.31L876.18,663.31Z" fill="#000" stroke="#fff" stroke-width="0.45"/>
<path d="M1396.59,1394.00L1393.07,1394.00L1393.07,1371.60Q1391.79,1372.80 1389.99,1374.00Q1388.07,1375.28 1386.03,1376.08L1386.03,1372.68Q1388.99,1371.32 1391.35,1368.72Q1392.79,1367.12 1393.35,1365.36L1396.59,1365.36Z" fill="#000" stroke="#fff" stroke-width="0.45"/>
</svg>
</body></html>
